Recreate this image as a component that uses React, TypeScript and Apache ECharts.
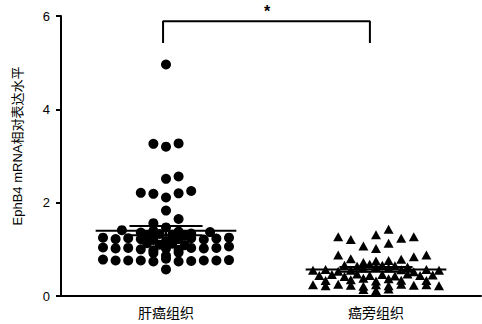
import React, { useEffect, useRef } from "react";
import * as echarts from "echarts";

const categories = ["肝癌组织", "癌旁组织"];
const yAxisName = "EphB4 mRNA相对表达水平";

// Tumour tissue (circles): jitter column index and relative expression
const tumorCols = [
  0, -1, 0, 1, 0, 1, -2, -1, 0, 1, 2, 0, 1, -1, -3.5, 3.5, 0, -2, -1, 1, 2, -1.5, -0.5, 0.5, 1.5,
  -5, -4, -3, -2, -1, 0, 1, 2, 3, 4, 5,
  -1.5, -0.5, 0.5, 1.5,
  -5, -4, -3, -2, -1, 0, 1, 2, 3, 4, 5,
  -1, 0, 1,
  -5, -4, -3, -2, -1, 0, 1, 2, 3, 4, 5,
  0,
];
const tumorVals = [
  4.96, 3.26, 3.2, 3.27, 2.51, 2.56, 2.21, 2.19, 2.11, 2.2, 2.25, 1.83, 1.65, 1.56, 1.41, 1.37, 1.47, 1.36, 1.4, 1.38, 1.34, 1.3, 1.33, 1.31, 1.29,
  1.25, 1.22, 1.24, 1.22, 1.2, 1.18, 1.22, 1.24, 1.21, 1.23, 1.25,
  1.13, 1.1, 1.12, 1.09,
  1.04, 1.02, 1.03, 1.0, 0.98, 1.02, 0.99, 1.03, 1.02, 1.03, 1.06,
  0.92, 0.86, 0.93,
  0.78, 0.76, 0.76, 0.76, 0.74, 0.8, 0.74, 0.75, 0.76, 0.76, 0.77,
  0.57,
];

// Adjacent tissue (triangles)
const adjCols = [
  1,
  -3, -2, 0, 2, 3,
  -1, 0, 1,
  -3, -2, -1, 0, 1, 2, 3, 4,
  -2.5, -1.5, -0.5, 0.5, 1.5, 2.5, -1, 0, 1,
  -5, -4, -3, -2, 2, 3, 4, 5,
  -4.5, -3.5, -2.5, -1.5, -0.5, 0.5, 1.5, 2.5, 3.5, 4.5,
  -4, -2, 0, 2, 4, -1, 1,
  -5, -4, -3, -2, -1, 0, 1, 2, 3, 4, 5,
  -1, 0, 1,
];
const adjVals = [
  1.43,
  1.27, 1.21, 1.31, 1.24, 1.27,
  1.07, 1.02, 1.13,
  0.88, 0.8, 0.72, 0.75, 0.76, 0.79, 0.84, 0.88,
  0.66, 0.64, 0.68, 0.66, 0.65, 0.62, 0.6, 0.62, 0.6,
  0.55, 0.57, 0.53, 0.55, 0.56, 0.52, 0.57, 0.55,
  0.44, 0.46, 0.42, 0.47, 0.44, 0.46, 0.43, 0.47, 0.44, 0.45,
  0.33, 0.35, 0.32, 0.34, 0.33, 0.38, 0.37,
  0.24, 0.22, 0.25, 0.23, 0.21, 0.24, 0.22, 0.25, 0.23, 0.24, 0.22,
  0.14, 0.12, 0.15,
];

const means = [1.4, 0.57];
const sems = [0.1, 0.05];

// significance bracket (x in value-axis units, y in data units)
const bracketX = [0.486, 1.471];
const bracketY = [5.42, 5.89];
const sigLabel = "*";

const COL_STEP = 0.06;
const MEAN_HALF = 0.335;
const SEM_HALF = 0.174;

const FONT = "'Liberation Sans', 'Noto Sans CJK SC', sans-serif";

export default function App() {
  const ref = useRef<HTMLDivElement>(null);
  useEffect(() => {
    if (!ref.current) return;
    const chart = echarts.init(ref.current, undefined, { renderer: "svg" });

    const tumorData = tumorCols.map((c, i) => [0.5 + c * COL_STEP, tumorVals[i]]);
    const adjData = adjCols.map((c, i) => [1.5 + c * COL_STEP, adjVals[i]]);

    const lineSeries = (data: number[][], width = 2) => ({
      type: "line",
      xAxisIndex: 1,
      yAxisIndex: 0,
      data,
      symbol: "none",
      lineStyle: { color: "#000", width },
      silent: true,
      z: 5,
    });

    const statSeries: any[] = [];
    means.forEach((m, g) => {
      const cx = g + 0.5;
      statSeries.push(lineSeries([[cx - MEAN_HALF, m], [cx + MEAN_HALF, m]]));
      statSeries.push(lineSeries([[cx - SEM_HALF, m + sems[g]], [cx + SEM_HALF, m + sems[g]]]));
      statSeries.push(lineSeries([[cx - SEM_HALF, m - sems[g]], [cx + SEM_HALF, m - sems[g]]]));
      statSeries.push(lineSeries([[cx, m - sems[g]], [cx, m + sems[g]]]));
    });

    chart.setOption({
      animation: false,
      backgroundColor: "#fff",
      grid: { left: 61, right: 1, top: 16, bottom: 28, containLabel: false, outerBoundsMode: "none" },
      xAxis: [
        {
          type: "category",
          data: categories,
          boundaryGap: true,
          axisLine: { lineStyle: { color: "#000", width: 2 } },
          axisTick: { alignWithLabel: true, length: 8, lineStyle: { color: "#000", width: 2 } },
          axisLabel: { color: "#000", fontSize: 14, margin: 10, fontFamily: FONT },
          splitLine: { show: false },
        },
        { type: "value", min: 0, max: 2, show: false },
      ],
      yAxis: {
        type: "value",
        min: 0,
        max: 6,
        interval: 2,
        axisLine: { show: true, lineStyle: { color: "#000", width: 2 } },
        axisTick: { show: true, length: 5, lineStyle: { color: "#000", width: 2 } },
        axisLabel: { color: "#000", fontSize: 13, margin: 11, fontFamily: FONT },
        splitLine: { show: false },
      },
      series: [
        {
          type: "scatter",
          xAxisIndex: 1,
          data: tumorData,
          symbol: "circle",
          symbolSize: 10,
          itemStyle: { color: "#000", opacity: 1 },
          z: 3,
        },
        {
          type: "scatter",
          xAxisIndex: 1,
          data: adjData,
          symbol: "triangle",
          symbolSize: [10, 9],
          itemStyle: { color: "#000", opacity: 1 },
          z: 3,
        },
        ...statSeries,
        lineSeries([
          [bracketX[0], bracketY[0]],
          [bracketX[0], bracketY[1]],
          [bracketX[1], bracketY[1]],
          [bracketX[1], bracketY[0]],
        ]),
      ],
      graphic: [
        {
          type: "text",
          x: 17,
          y: 146,
          rotation: Math.PI / 2,
          style: {
            text: yAxisName,
            fill: "#000",
            fontSize: 13,
            fontFamily: FONT,
            align: "center",
            verticalAlign: "middle",
          },
        },
        {
          type: "text",
          x: 267,
          y: 11,
          style: {
            text: sigLabel,
            fill: "#000",
            fontSize: 16,
            fontWeight: "bold",
            fontFamily: FONT,
            align: "center",
            verticalAlign: "middle",
          },
        },
      ],
    });
    return () => chart.dispose();
  }, []);
  return (
    <div
      ref={ref}
      style={{ position: "fixed", left: 0, top: 0, width: 482, height: 324, background: "#fff" }}
    />
  );
}
